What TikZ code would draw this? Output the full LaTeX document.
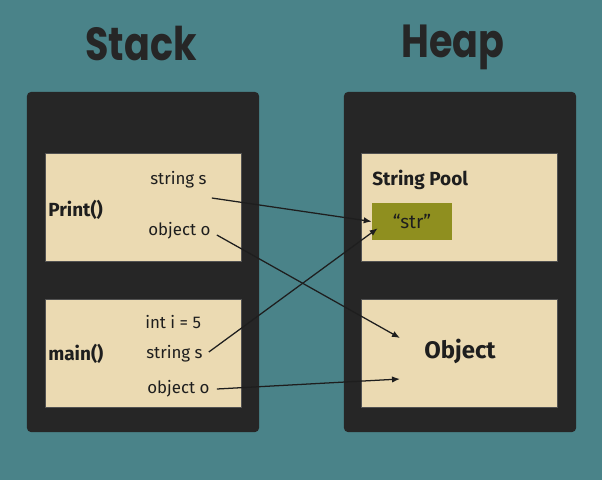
\documentclass[tikz,border=0pt]{standalone}
\usepackage{fontspec}
\setmainfont{Fira Sans}
\newfontfamily\titlefont{Poppins}[FakeStretch=0.82]
\usetikzlibrary{arrows.meta,positioning}
\definecolor{SeaTeal}{RGB}{74,131,137}
\definecolor{PanelDark}{RGB}{38,38,38}
\definecolor{FrameCream}{RGB}{235,218,178}
\definecolor{PoolOlive}{RGB}{143,143,31}
\definecolor{InkDark}{RGB}{30,30,30}
\tikzset{
  panel/.style={fill=PanelDark,rounded corners=1mm,
    minimum width=5.8cm,minimum height=8.5cm},
  framebox/.style={fill=FrameCream,draw=PanelDark!80,line width=0.4pt,
    minimum width=4.9cm,minimum height=2.7cm},
  strbox/.style={fill=PoolOlive,minimum width=2cm,minimum height=0.925cm,
    font=\fontsize{13.5}{15}\selectfont,text=InkDark},
  title/.style={font=\titlefont\bfseries\fontsize{33}{38}\selectfont,
    text=PanelDark},
  varlabel/.style={anchor=west,inner sep=0pt,
    font=\fontsize{12}{14}\selectfont,text=InkDark},
  fnlabel/.style={anchor=west,inner sep=0pt,
    font=\bfseries\fontsize{13.5}{16}\selectfont,text=InkDark},
  ptr/.style={-{Latex[length=2mm,width=1.6mm]},line width=0.9pt,
    draw=InkDark},
}
\begin{document}
\begin{tikzpicture}[x=0.025cm,y=-0.025cm]
  \fill[SeaTeal] (0,0) rectangle (602,480);
  \useasboundingbox (0,0) rectangle (602,480);
  % titles
  \node[title] (stacktitle) at (141,44) {Stack};
  \node[title] (heaptitle) at (453,47) {Heap};
  % stack side
  \node[panel] (stack) at (143,262) {};
  \node[framebox] (printframe) at (143,207) {};
  \node[framebox] (mainframe) at (143,353.5) {};
  \node[fnlabel] (printfn) at (48,210) {Print()};
  \node[varlabel] (ps) at (150,180) {string s};
  \node[varlabel] (po) at (148,231) {object o};
  \node[fnlabel] (mainfn) at (48,354) {main()};
  \node[varlabel] (mi) at (145,322) {int i = 5};
  \node[varlabel] (ms) at (146,354) {string s};
  \node[varlabel] (mo) at (147,389) {object o};
  % heap side
  \node[panel] (heap) at (460,262) {};
  \node[framebox] (poolframe) at (459.5,207) {};
  \node[framebox] (objframe) at (459.5,353.5) {};
  \node[fnlabel] (pooltitle) at (372,180) {String Pool};
  \node[strbox] (str) at (412,221.5) {``str''};
  \node[font=\bfseries\fontsize{17}{20}\selectfont,text=InkDark]
    (objtitle) at (460,351) {Object};
  \coordinate (objin1) at (400,338);
  \coordinate (objin2) at (400,379);
  % pointers
  \draw[ptr] ([shift={(5,18)}]ps.east) -- (str.west);
  \draw[ptr] ([shift={(6,4)}]po.east) -- (objin1);
  \draw[ptr] ([shift={(6,-2)}]ms.east) -- ([shift={(6,-12)}]str.south west);
  \draw[ptr] ([xshift=5]mo.east) -- (objin2);
\end{tikzpicture}
\end{document}
